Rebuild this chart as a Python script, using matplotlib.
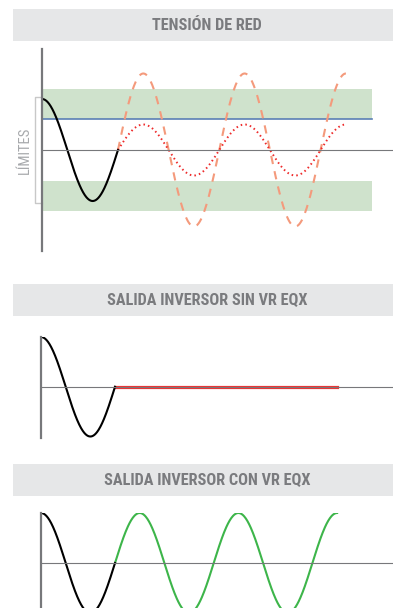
import numpy as np
import matplotlib
matplotlib.use('Agg')
import matplotlib.pyplot as plt
from matplotlib.patches import Rectangle

# ---- datos (amplitud relativa a la tension nominal, tiempo en ciclos) ----
titulos = ['TENSIÓN DE RED', 'SALIDA INVERSOR SIN VR EQX', 'SALIDA INVERSOR CON VR EQX']
etiqueta_limites = 'LÍMITES'
ciclos_red = [0.0, 0.75]          # tramo de red normal (negro)
ciclos_fallo = [0.75, 3.0]        # tramo despues del fallo
amp_red = 1.0
amp_sobretension = 1.5            # naranja discontinua
amp_subtension = 0.5              # roja punteada
amp_inversor_sin = 0.0            # salida cortada
amp_inversor_con = 1.0            # salida verde
banda_sup = [0.6, 1.2]
banda_inf = [-1.2, -0.6]
limite_azul = 0.6
fin_bandas = 3.26
limites_bracket = [-1.03, 1.03]

W, H = 393, 608
fig = plt.figure(figsize=(W / 100, H / 100), dpi=100)
plt.rcParams['font.family'] = ['Roboto Condensed', 'Liberation Sans Narrow',
                               'Liberation Sans', 'DejaVu Sans']

GRIS_EJE = '#77787b'
GRIS_TXT = '#7a7b7e'


def px_axes(x0, y0, x1, y1):
    return fig.add_axes([x0 / W, 1 - y1 / H, (x1 - x0) / W, (y1 - y0) / H])


def onda(ax, c0, c1, amp, **kw):
    t = np.linspace(c0, c1, 400)
    ax.plot(t, amp * np.cos(2 * np.pi * t), **kw)


def estilo(ax, xlim, ylim):
    ax.set_xlim(*xlim)
    ax.set_ylim(*ylim)
    for s in ['top', 'right']:
        ax.spines[s].set_visible(False)
    ax.spines['left'].set_color(GRIS_EJE)
    ax.spines['left'].set_linewidth(1.6)
    ax.spines['bottom'].set_position(('data', 0))
    ax.spines['bottom'].set_color(GRIS_EJE)
    ax.spines['bottom'].set_linewidth(0.8)
    ax.set_xticks([])
    ax.set_yticks([])
    ax.patch.set_alpha(0)


def barra_titulo(y0, y1, texto):
    fig.patches.append(Rectangle((13 / W, 1 - y1 / H), (W - 13) / W, (y1 - y0) / H,
                                 transform=fig.transFigure, facecolor='#e6e7e8',
                                 edgecolor='none', zorder=0))
    fig.text(207 / W, 1 - (y0 + y1) / 2 / H, texto, ha='center', va='center',
             fontsize=11.7, fontweight='bold', color=GRIS_TXT)


# ---- panel 1: tension de red ----
barra_titulo(9, 41, titulos[0])
ax1 = px_axes(42, 49, 393, 251)
estilo(ax1, (0, 351 / 101.3), (-1.98, 1.98))
ax1.fill_between([0, fin_bandas], banda_sup[0], banda_sup[1], color='#cfe2cc', lw=0)
ax1.fill_between([0, fin_bandas], banda_inf[0], banda_inf[1], color='#cfe2cc', lw=0)
ax1.plot([0, fin_bandas], [limite_azul, limite_azul], color='#5b7fb5', lw=1.2)
onda(ax1, ciclos_fallo[0], ciclos_fallo[1], amp_sobretension, color='#f49a7c',
     lw=1.5, dashes=(4, 3.5))
onda(ax1, ciclos_fallo[0], ciclos_fallo[1], amp_subtension, color='#ee2b2b',
     lw=1.4, dashes=(0.8, 1.6))
onda(ax1, ciclos_red[0], ciclos_red[1], amp_red, color='black', lw=1.5)
bx = -0.07
ax1.plot([0, bx, bx, 0], [limites_bracket[1], limites_bracket[1],
                          limites_bracket[0], limites_bracket[0]],
         color='#c8c8c8', lw=1.0, clip_on=False)
ax1.text(-0.165, 0, etiqueta_limites, rotation=90, ha='center', va='center',
         fontsize=10.5, color='#a7a9ac', clip_on=False)

# ---- panel 2: salida inversor sin VR EQX ----
barra_titulo(284, 316, titulos[1])
ax2 = px_axes(41, 337, 393, 438)
estilo(ax2, (0, 352 / 98.7), (-1.03, 1.0))
onda(ax2, ciclos_fallo[0], ciclos_fallo[1], amp_inversor_sin, color='#ee3333', lw=2.3)
onda(ax2, ciclos_red[0], ciclos_red[1], amp_red, color='black', lw=1.5)

# ---- panel 3: salida inversor con VR EQX ----
barra_titulo(464, 496, titulos[2])
ax3 = px_axes(41, 513, 393, 615)
estilo(ax3, (0, 352 / 98.7), (-1.04, 1.0))
onda(ax3, ciclos_fallo[0], ciclos_fallo[1], amp_inversor_con, color='#3db54a', lw=1.5)
onda(ax3, ciclos_red[0], ciclos_red[1], amp_red, color='black', lw=1.5)

fig.savefig('out.png', dpi=100)
